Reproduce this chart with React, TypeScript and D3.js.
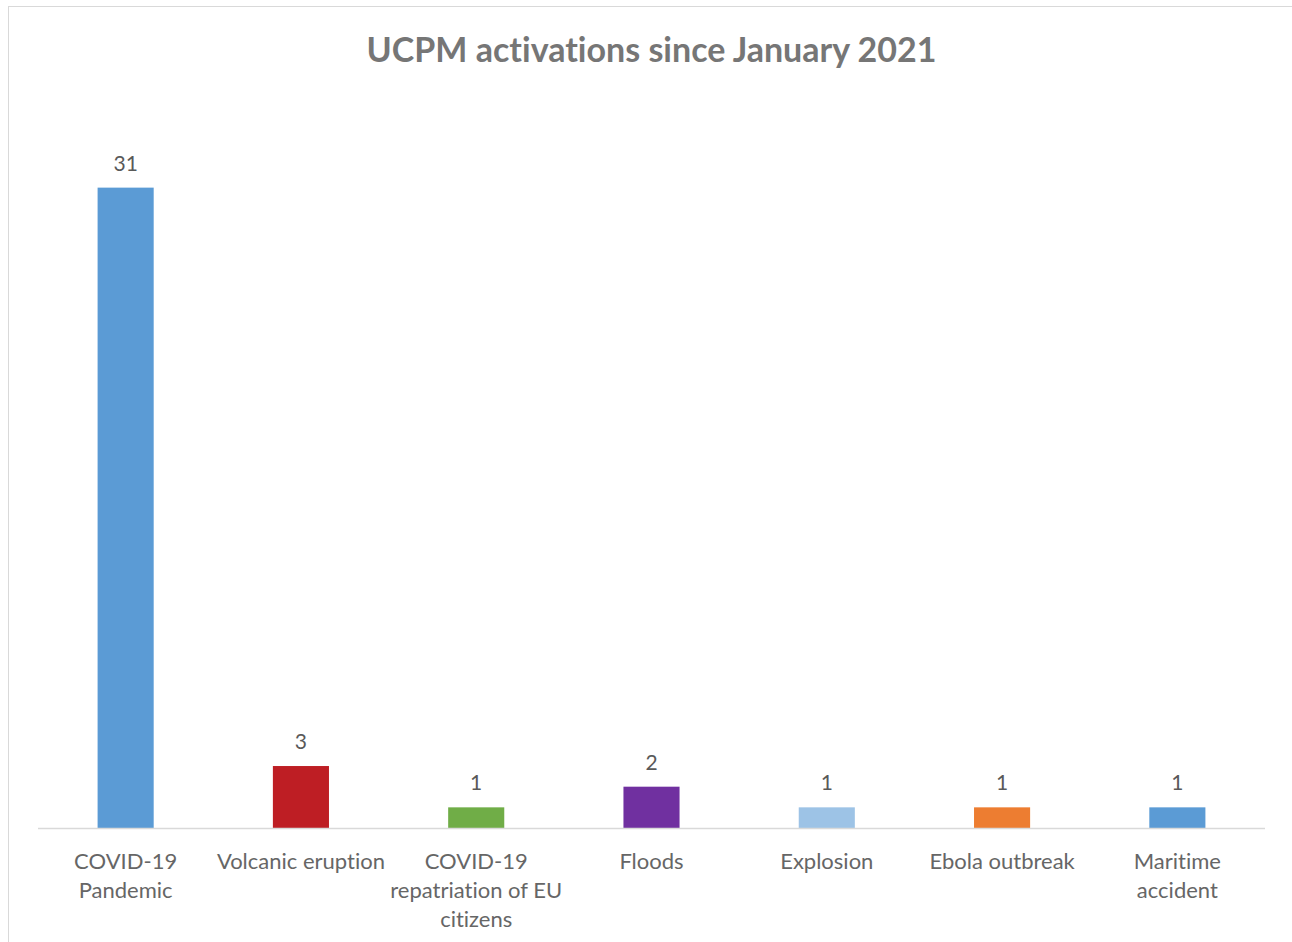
import * as React from "react"
import * as d3 from "d3"

// chart data
const categories = [
  "COVID-19 Pandemic",
  "Volcanic eruption",
  "COVID-19 repatriation of EU citizens",
  "Floods",
  "Explosion",
  "Ebola outbreak",
  "Maritime accident",
]
// wrapped axis labels, as shown under each bar
const categoryLines = [
  ["COVID-19", "Pandemic"],
  ["Volcanic eruption"],
  ["COVID-19", "repatriation of EU", "citizens"],
  ["Floods"],
  ["Explosion"],
  ["Ebola outbreak"],
  ["Maritime", "accident"],
]
const activations = [31, 3, 1, 2, 1, 1, 1]
const barColors = [
  "#5b9bd5",
  "#be1e24",
  "#70ad47",
  "#7030a0",
  "#9dc3e6",
  "#ed7d31",
  "#5b9bd5",
]
const title = "UCPM activations since January 2021"

const width = 1292
const height = 942
const margin = { top: 105, right: 27, bottom: 114, left: 38 }
const font = "Lato, 'Open Sans', sans-serif"

export default function App(): React.JSX.Element {
  const x = d3
    .scaleBand()
    .domain(categories)
    .range([margin.left, width - margin.right])
    .padding(0)

  const y = d3
    .scaleLinear()
    .domain([0, 35])
    .range([height - margin.bottom, margin.top])

  const barW = x.bandwidth() * 0.32
  const baseY = y(0)

  return (
    <svg
      width={width}
      height={height}
      style={{
        position: "absolute",
        left: 0,
        top: 0,
        background: "#fff",
        fontVariantLigatures: "none",
      }}
      fontFamily={font}
    >
      <rect
        x={8.5}
        y={6.5}
        width={width + 20}
        height={height + 20}
        fill="#fff"
        stroke="#d9d9d9"
      />
      <text
        x={(margin.left + width - margin.right) / 2}
        y={62}
        textAnchor="middle"
        fontSize={34}
        fontWeight="bold"
        fill="#767676"
      >
        {title}
      </text>

      {categories.map((c, i) => {
        const cx = (x(c) as number) + x.bandwidth() / 2
        const v = activations[i]
        return (
          <g key={c}>
            <rect
              x={cx - barW / 2}
              y={y(v)}
              width={barW}
              height={baseY - y(v)}
              fill={barColors[i]}
            />
            <text
              x={cx}
              y={y(v) - 17}
              textAnchor="middle"
              fontSize={21}
              fill="#595959"
            >
              {v}
            </text>
            {categoryLines[i].map((line, j) => (
              <text
                key={j}
                x={cx}
                y={baseY + 41 + j * 29}
                textAnchor="middle"
                fontSize={22}
                fill="#666666"
              >
                {line}
              </text>
            ))}
          </g>
        )
      })}

      <line
        x1={margin.left}
        x2={width - margin.right}
        y1={baseY + 0.5}
        y2={baseY + 0.5}
        stroke="#d9d9d9"
        strokeWidth={1.5}
      />
    </svg>
  )
}
